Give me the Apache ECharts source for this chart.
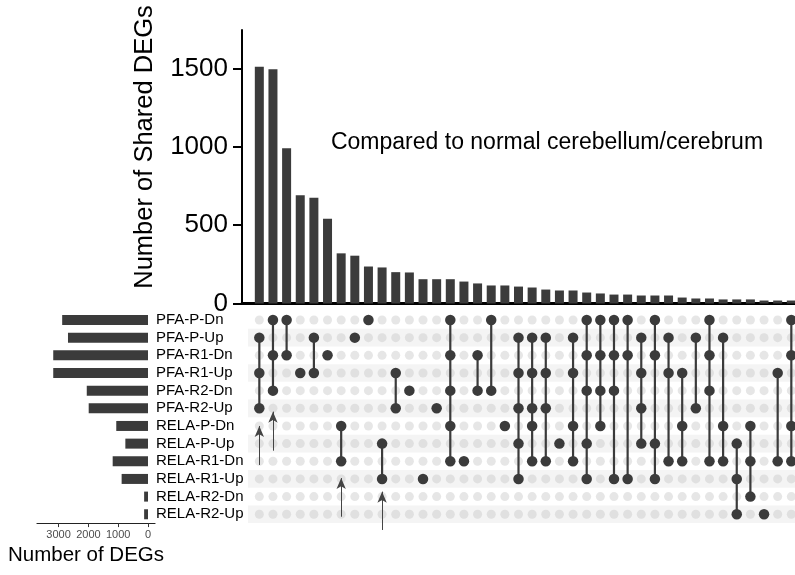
<!DOCTYPE html>
<html>
<head>
<meta charset="utf-8">
<script src="https://cdn.jsdelivr.net/npm/echarts@6/dist/echarts.min.js"></script>
<style>html,body{margin:0;padding:0;background:#fff}#c{width:795px;height:575px}</style>
</head>
<body>
<div id="c"></div>
<script>
const setNames = ['PFA-P-Dn','PFA-P-Up','PFA-R1-Dn','PFA-R1-Up','PFA-R2-Dn','PFA-R2-Up',
  'RELA-P-Dn','RELA-P-Up','RELA-R1-Dn','RELA-R1-Up','RELA-R2-Dn','RELA-R2-Up'];
const setSizes = [2880, 2685, 3180, 3180, 2055, 1990, 1065, 760, 1185, 885, 130, 130];
const interCounts = [1510, 1495, 990, 690, 675, 540, 320, 305, 236, 230,
  200, 198, 155, 155, 155, 140, 128, 115, 115, 108,
  102, 89, 83, 83, 70, 64, 57, 57, 51, 51,
  51, 38, 32, 32, 26, 26, 26, 19, 19, 19];
const interMembers = [[1,3,5],[0,2,4],[0,2],[3],[1,3],[2],[6,8],[1],[0],[7,9],
  [3,5],[4],[9],[5],[0,2,4,6,8],[8],[2,4],[0,4],[6],[1,3,5,7,9],
  [1,3,5,6,8],[1,3,5,8],[7],[1,3,6,8],[0,2,4,7,9],[0,2,4,6],[0,2,4,9],[0,2,9],[1,3,5,7],[0,2,7,9],
  [1,3,8],[3,6,8],[1,5],[0,2,4,8],[1,6,8],[7,9,11],[6,8,10],[11],[3,8],[0,2,6,8]];
const barTicks = [0, 500, 1000, 1500];
const sizeTicks = [0, 1000, 2000, 3000];
// annotation arrows: [column, tail row, tip row]
const arrows = [[0, 8.21, 6.0], [1, 7.4, 5.19], [6, 11.14, 8.95], [9, 11.89, 9.72]];

const FONT = 'Liberation Sans, Arial, Helvetica, sans-serif';
const DARK = '#3b3b3b';
const XMIN = -1.27, XMAX = 39.27;

const barData = interCounts.map((v, i) => [i, v]);
const filled = [], empty = [], segs = [];
interMembers.forEach((m, c) => {
  for (let r = 0; r < setNames.length; r++) {
    if (m.indexOf(r) >= 0) filled.push([c, r]); else empty.push([c, r]);
  }
  if (m.length > 1) segs.push([c, Math.min(...m), Math.max(...m)]);
});
const stripes = [];
for (let r = 1; r < setNames.length; r += 2) {
  stripes.push([{xAxis: -0.83, yAxis: r - 0.5}, {xAxis: XMAX, yAxis: r + 0.5}]);
}
const arrowLines = arrows.map(a => [{coord: [a[0], a[1]]}, {coord: [a[0], a[2]]}]);

const chart = echarts.init(document.getElementById('c'), null, {renderer: 'canvas'});
chart.setOption({
  animation: false,
  textStyle: {fontFamily: FONT},
  grid: [
    {left: 242, right: 0, top: 30, height: 273.5},
    {left: 242, right: 0, top: 304.1, height: 226.05},
    {left: 37, width: 118, top: 311.17, height: 211.92}
  ],
  xAxis: [
    {gridIndex: 0, type: 'value', min: XMIN, max: XMAX,
      axisLine: {show: true, onZero: false, lineStyle: {color: '#000', width: 3}},
      axisTick: {show: false}, axisLabel: {show: false}, splitLine: {show: false}},
    {gridIndex: 1, type: 'value', min: XMIN, max: XMAX, show: false},
    {gridIndex: 2, type: 'value', inverse: true, min: -235, max: 3725,
      axisLine: {show: true, onZero: false, lineStyle: {color: '#222', width: 1.2}},
      axisTick: {show: true, customValues: sizeTicks, length: 4, lineStyle: {color: '#333'}},
      axisLabel: {show: true, customValues: sizeTicks, fontSize: 11, color: '#4d4d4d', margin: 6,
        formatter: v => String(v)},
      splitLine: {show: false}}
  ],
  yAxis: [
    {gridIndex: 0, type: 'value', min: 0, max: 1745,
      axisLine: {show: true, onZero: false, lineStyle: {color: '#000', width: 2}},
      axisTick: {show: true, customValues: barTicks, length: 9, lineStyle: {color: '#000', width: 2}},
      axisLabel: {show: true, customValues: barTicks, fontSize: 26, color: '#000', margin: 14,
        formatter: v => String(v)},
      splitLine: {show: false}},
    {gridIndex: 1, type: 'value', inverse: true, min: -0.9, max: 11.9, show: false},
    {gridIndex: 2, type: 'category', inverse: true, data: setNames, position: 'right',
      axisLine: {show: false, onZero: false}, axisTick: {show: false},
      axisLabel: {show: true, fontSize: 15, color: '#000', margin: 1, interval: 0},
      splitLine: {show: false}}
  ],
  series: [
    {type: 'bar', xAxisIndex: 0, yAxisIndex: 0, data: barData, barWidth: 9,
      itemStyle: {color: DARK}},
    {type: 'scatter', xAxisIndex: 1, yAxisIndex: 1, data: [], z: 0, silent: true,
      markArea: {silent: true, itemStyle: {color: '#f4f4f4'}, data: stripes}},
    {type: 'scatter', xAxisIndex: 1, yAxisIndex: 1, data: empty, symbolSize: 9, z: 2,
      itemStyle: {color: 'rgba(200,200,200,0.45)', opacity: 1}},
    {type: 'custom', xAxisIndex: 1, yAxisIndex: 1, data: segs, z: 3,
      renderItem: (params, api) => {
        const p1 = api.coord([api.value(0), api.value(1)]);
        const p2 = api.coord([api.value(0), api.value(2)]);
        return {type: 'line', shape: {x1: p1[0], y1: p1[1], x2: p2[0], y2: p2[1]},
          style: {stroke: DARK, lineWidth: 2.2}};
      }},
    {type: 'scatter', xAxisIndex: 1, yAxisIndex: 1, data: filled, symbolSize: 10.5, z: 4,
      itemStyle: {color: DARK, opacity: 1},
      markLine: {silent: true, symbol: ['none', 'arrow'], symbolSize: [7, 11],
        lineStyle: {color: '#444', width: 1, type: 'solid'}, label: {show: false},
        data: arrowLines}},
    {type: 'bar', xAxisIndex: 2, yAxisIndex: 2, data: setSizes, barWidth: 10,
      itemStyle: {color: DARK}}
  ],
  graphic: [
    {type: 'text', x: 145, y: 147, rotation: Math.PI / 2,
      style: {text: 'Number of Shared DEGs', font: '25.5px ' + FONT, fill: '#000',
        textAlign: 'center', textVerticalAlign: 'middle'}},
    {type: 'text', x: 547, y: 143,
      style: {text: 'Compared to normal cerebellum/cerebrum', font: '23px ' + FONT, fill: '#000',
        textAlign: 'center', textVerticalAlign: 'middle'}},
    {type: 'text', x: 86, y: 555,
      style: {text: 'Number of DEGs', font: '20.5px ' + FONT, fill: '#000',
        textAlign: 'center', textVerticalAlign: 'middle'}}
  ]
});
</script>
</body>
</html>
